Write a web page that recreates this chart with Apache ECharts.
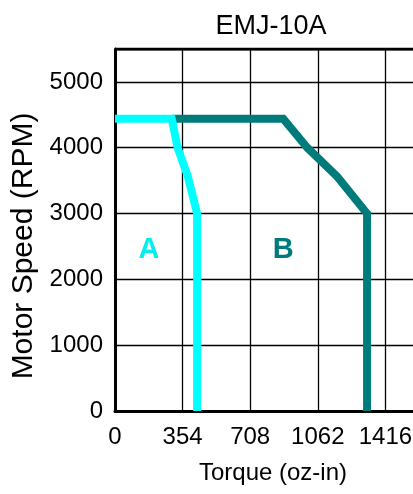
<!DOCTYPE html>
<html>
<head>
<meta charset="utf-8">
<script src="https://cdn.jsdelivr.net/npm/echarts@6/dist/echarts.min.js"></script>
<style>
html,body{margin:0;padding:0;background:#fff;overflow:hidden;}
#c{width:413px;height:494px;}
</style>
</head>
<body>
<div id="c"></div>
<script>
var xTicks = [0, 354, 708, 1062, 1416];
var yTicks = [0, 1000, 2000, 3000, 4000, 5000];
var curveA = [[0, 4440], [297, 4440], [328, 4000], [382, 3560], [430, 3000], [430, 0]];
var curveB = [[300, 4440], [881, 4440], [1007, 4000], [1164, 3560], [1320, 3000], [1320, 0]];
var labelA = [178, 2440];
var labelB = [881, 2440];

var chart = echarts.init(document.getElementById('c'), null, {renderer: 'canvas'});
var font = 'Liberation Sans, Arial, Helvetica, sans-serif';
function tag(text, color, coord) {
  return {
    symbol: 'circle', symbolSize: 1,
    itemStyle: {color: 'rgba(0,0,0,0)'},
    label: {show: true, position: 'inside', formatter: text, fontFamily: font, fontSize: 29, fontWeight: 'bold', color: color},
    data: [{coord: coord}]
  };
}
chart.setOption({
  animation: false,
  backgroundColor: '#fff',
  title: {
    text: 'EMJ-10A',
    left: 266, top: 8,
    textAlign: 'center',
    textStyle: {fontFamily: font, fontSize: 27, fontWeight: 'normal', color: '#000'}
  },
  grid: {left: 115, top: 49, width: 338, height: 362, show: false, containLabel: false, outerBoundsMode: 'none'},
  xAxis: {
    type: 'value', min: 0, max: 1770, interval: 354,
    name: 'Torque (oz-in)', nameLocation: 'middle', nameGap: 50,
    nameTextStyle: {fontFamily: font, fontSize: 24, color: '#000', padding: [0, 22, 0, 0]},
    axisLine: {show: true, lineStyle: {color: '#000', width: 3}},
    axisTick: {show: false},
    axisLabel: {fontFamily: font, fontSize: 24, color: '#000', margin: 14,
      formatter: function (v) { return xTicks.indexOf(v) >= 0 ? String(v) : ''; }},
    splitLine: {show: true, lineStyle: {color: '#000', width: 1.3}}
  },
  yAxis: {
    type: 'value', min: 0, max: 5500, interval: 1000,
    name: 'Motor Speed (RPM)', nameLocation: 'middle', nameGap: 72,
    nameTextStyle: {fontFamily: font, fontSize: 30, color: '#000', padding: [0, 32, 0, 0]},
    axisLine: {show: true, lineStyle: {color: '#000', width: 3}},
    axisTick: {show: false},
    axisLabel: {fontFamily: font, fontSize: 24, color: '#000', margin: 12,
      formatter: function (v) { return yTicks.indexOf(v) >= 0 ? String(v) : ''; }},
    splitLine: {show: true, lineStyle: {color: '#000', width: 1.3}}
  },
  series: [
    {
      type: 'line', name: 'top', data: [[0, 5500], [1770, 5500]],
      symbol: 'none', silent: true,
      lineStyle: {color: '#000', width: 3}, z: 1
    },
    {
      type: 'line', name: 'B', data: curveB, symbol: 'none',
      lineStyle: {color: '#007b7b', width: 8, join: 'miter'}, z: 3,
      markPoint: tag('B', '#007b7b', labelB)
    },
    {
      type: 'line', name: 'A', data: curveA, symbol: 'none',
      lineStyle: {color: '#00ffff', width: 8, join: 'miter'}, z: 4,
      markPoint: tag('A', '#00f0f0', labelA)
    }
  ]
});
</script>
</body>
</html>
